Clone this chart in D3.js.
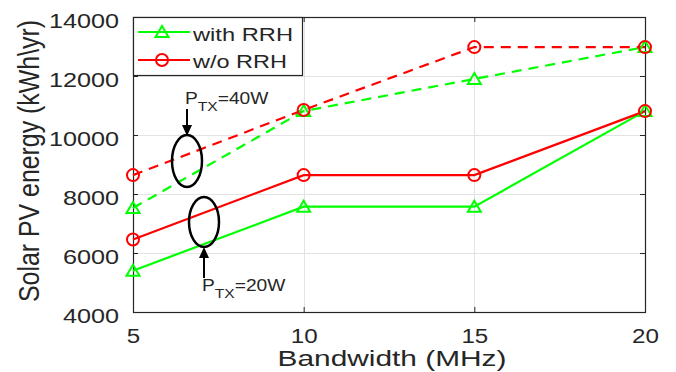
<!DOCTYPE html>
<html><head><meta charset="utf-8">
<script src="https://cdn.jsdelivr.net/npm/d3@7"></script>
<style>
body{margin:0;background:#fff}
svg{display:block}
text{font-family:"Liberation Sans",Arial,Helvetica,sans-serif;fill:#262626}
</style>
</head><body>
<svg id="c" width="676" height="372"></svg>
<script>
// ---- data ----
const bandwidth = [5, 10, 15, 20];
const withRRH20 = [5400, 7570, 7570, 10810];
const woRRH20   = [6460, 8640, 8640, 10810];
const withRRH40 = [7525, 10810, 11900, 12980];
const woRRH40   = [8640, 10850, 12980, 12980];
const xTicks = [5, 10, 15, 20];
const yTicks = [4000, 6000, 8000, 10000, 12000, 14000];
const seriesNames = ["with RRH", "w/o RRH"];

// ---- setup ----
const svg = d3.select("#c");
const L = 133, R = 645, T = 17, B = 312;
const x = d3.scaleLinear().domain([5, 20]).range([L, R]);
const y = d3.scaleLinear().domain([4000, 14000]).range([B, T]);
const GREEN = "#00ff00", RED = "#ff0000", AX = "#262626";

svg.append("rect").attr("width", 676).attr("height", 372).attr("fill", "#fff");

// grid
const grid = svg.append("g").attr("stroke", "#e3e3e3").attr("stroke-width", 1);
grid.selectAll("line.gx").data(xTicks.slice(1, -1)).join("line")
  .attr("x1", d => Math.round(x(d)) + 0.5).attr("x2", d => Math.round(x(d)) + 0.5)
  .attr("y1", T).attr("y2", B);
grid.selectAll("line.gy").data(yTicks.slice(1, -1)).join("line")
  .attr("y1", d => Math.round(y(d)) + 0.5).attr("y2", d => Math.round(y(d)) + 0.5)
  .attr("x1", L).attr("x2", R);

// axes
function styleAxis(g) {
  g.select(".domain").remove();
  g.selectAll(".tick line").attr("stroke", AX);
}
const gx = svg.append("g").attr("transform", `translate(0,${B})`)
  .call(d3.axisBottom(x).tickValues(xTicks).tickSize(-5).tickFormat(d3.format("d")));
styleAxis(gx);
gx.selectAll(".tick text").attr("y", 0).attr("dy", null)
  .attr("transform", "translate(0,31) scale(1.24,1)")
  .attr("font-size", 19.5).attr("fill", AX);

const gxt = svg.append("g").attr("transform", `translate(0,${T})`)
  .call(d3.axisTop(x).tickValues(xTicks).tickSize(-5).tickFormat(""));
styleAxis(gxt);

const gy = svg.append("g").attr("transform", `translate(${L},0)`)
  .call(d3.axisLeft(y).tickValues(yTicks).tickSize(-5).tickFormat(d3.format("d")));
styleAxis(gy);
gy.selectAll(".tick text").attr("x", 0).attr("dy", null)
  .attr("transform", "translate(-14,10) scale(1.2,1)")
  .attr("font-size", 21).attr("fill", AX).attr("text-anchor", "end");

const gyr = svg.append("g").attr("transform", `translate(${R},0)`)
  .call(d3.axisRight(y).tickValues(yTicks).tickSize(-5).tickFormat(""));
styleAxis(gyr);

// box
svg.append("rect").attr("x", L + 0.5).attr("y", T + 0.5)
  .attr("width", R - L).attr("height", B - T)
  .attr("fill", "none").attr("stroke", AX).attr("stroke-width", 1.2);

// series
const line = d3.line().x((d, i) => x(bandwidth[i])).y(d => y(d));
const series = [
  {v: withRRH40, c: GREEN, dash: "10,7", m: "tri"},
  {v: woRRH40, c: RED, dash: "10,7", m: "circ"},
  {v: withRRH20, c: GREEN, dash: null, m: "tri"},
  {v: woRRH20, c: RED, dash: null, m: "circ"}
];
const triPath = "M0,-6L6.5,5L-6.5,5Z";
function marker(g, type, color) {
  if (type === "tri") {
    g.append("path").attr("d", triPath).attr("fill", "none")
      .attr("stroke", color).attr("stroke-width", 2);
  } else {
    g.append("circle").attr("r", 6).attr("fill", "none")
      .attr("stroke", color).attr("stroke-width", 2);
  }
}
series.forEach(s => {
  svg.append("path").attr("d", line(s.v)).attr("fill", "none")
    .attr("stroke", s.c).attr("stroke-width", 2.2)
    .attr("stroke-dasharray", s.dash);
});
series.forEach(s => {
  s.v.forEach((d, i) => {
    const g = svg.append("g").attr("transform", `translate(${x(bandwidth[i])},${y(d)})`);
    marker(g, s.m, s.c);
  });
});

// legend
const lg = svg.append("g");
lg.append("rect").attr("x", L + 0.5).attr("y", T + 0.5).attr("width", 169).attr("height", 58)
  .attr("fill", "#fff").attr("stroke", AX).attr("stroke-width", 1.2);
const legItems = [{c: GREEN, m: "tri", yy: 32, tb: 41, w: 100}, {c: RED, m: "circ", yy: 60, tb: 68, w: 94}];
legItems.forEach((it, i) => {
  lg.append("line").attr("x1", 138).attr("x2", 190).attr("y1", it.yy).attr("y2", it.yy)
    .attr("stroke", it.c).attr("stroke-width", 2.2);
  marker(lg.append("g").attr("transform", `translate(162,${it.yy})`), it.m, it.c);
  lg.append("text").attr("x", 193).attr("y", it.tb).attr("font-size", 19)
    .attr("textLength", it.w).attr("lengthAdjust", "spacingAndGlyphs")
    .attr("fill", AX).text(seriesNames[i]);
});

// axis labels
svg.append("text").attr("x", 392).attr("y", 366).attr("text-anchor", "middle")
  .attr("font-size", 21.5).attr("textLength", 229).attr("lengthAdjust", "spacingAndGlyphs")
  .attr("fill", AX).text("Bandwidth (MHz)");
svg.append("text").attr("transform", "translate(39,161) rotate(-90) scale(1,1.3)")
  .attr("text-anchor", "middle").attr("font-size", 22)
  .attr("textLength", 282).attr("lengthAdjust", "spacingAndGlyphs")
  .attr("fill", AX).text("Solar PV energy (kWh\\yr)");

// annotations
const ann = svg.append("g");
function ptx(xx, yy, val) {
  const t = ann.append("text").attr("transform", `translate(${xx},${yy}) scale(1.2,1)`)
    .attr("fill", "#000").attr("font-size", 16);
  t.append("tspan").text("P");
  t.append("tspan").attr("font-size", 13).attr("dy", 7).text("TX");
  t.append("tspan").attr("dy", -7).text("=" + val);
}
function arrow(xx, y0, y1) {
  const dir = Math.sign(y1 - y0);
  ann.append("line").attr("x1", xx).attr("x2", xx).attr("y1", y0).attr("y2", y1 - dir * 8)
    .attr("stroke", "#000").attr("stroke-width", 2);
  ann.append("path").attr("d", `M${xx},${y1}L${xx - 5},${y1 - dir * 11}L${xx + 5},${y1 - dir * 11}Z`)
    .attr("fill", "#000");
}
ptx(185, 104, "40W");
arrow(187, 109, 136);
ann.append("ellipse").attr("cx", 187).attr("cy", 161).attr("rx", 15).attr("ry", 26)
  .attr("fill", "none").attr("stroke", "#000").attr("stroke-width", 2.5);
ann.append("ellipse").attr("cx", 204).attr("cy", 222).attr("rx", 15).attr("ry", 25)
  .attr("fill", "none").attr("stroke", "#000").attr("stroke-width", 2.5);
arrow(204, 278, 247);
ptx(202, 291, "20W");
</script>
</body></html>
